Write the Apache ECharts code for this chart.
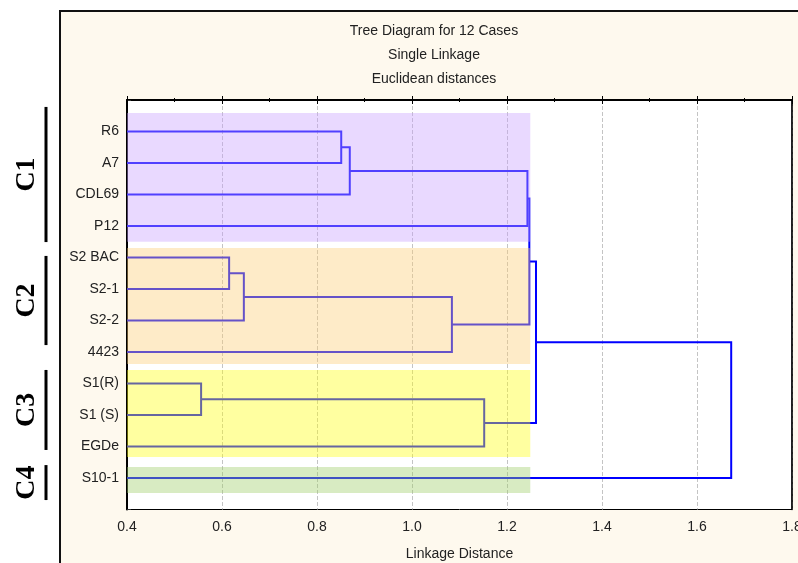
<!DOCTYPE html>
<html>
<head>
<meta charset="utf-8">
<script src="https://cdn.jsdelivr.net/npm/echarts@6/dist/echarts.min.js"></script>
<style>
  html, body { margin: 0; padding: 0; background: #fff; }
  #chart { width: 798px; height: 563px; }
</style>
</head>
<body>
<div id="chart"></div>
<script>
// ---- data ----
const titleLines = ['Tree Diagram for 12 Cases', 'Single Linkage', 'Euclidean distances'];
const axisName = 'Linkage Distance';
const leaves = ['R6', 'A7', 'CDL69', 'P12', 'S2 BAC', 'S2-1', 'S2-2', '4423', 'S1(R)', 'S1 (S)', 'EGDe', 'S10-1'];
// each merge: [child a, child b, linkage distance]; ids >= 12 are earlier merges
const merges = [
  [0, 1, 0.851],
  [12, 2, 0.869],
  [13, 3, 1.243],
  [4, 5, 0.615],
  [15, 6, 0.646],
  [16, 7, 1.084],
  [14, 17, 1.247],
  [8, 9, 0.556],
  [19, 10, 1.152],
  [18, 20, 1.261],
  [21, 11, 1.672]
];
const clusterNames = ['C1', 'C2', 'C3', 'C4'];
const clusterLeaves = [[0, 3], [4, 7], [8, 10], [11, 11]]; // first/last leaf index
const bandEnd = 1.249;
const xMin = 0.4, xMax = 1.8, xStep = 0.2;

// ---- layout / style ----
const bandColors = ['rgba(200,160,255,0.4)', 'rgba(252,205,117,0.4)', 'rgba(255,255,18,0.4)', 'rgba(157,205,102,0.4)'];
const bandPad = [[0.59, 0.5], [0.3, 0.38], [0.43, 0.33], [0.35, 0.48]];
const bracketRows = [[0.22, 4.51], [4.95, 7.78], [8.57, 11.11], [11.59, 12.7]];
const FONT = '"Liberation Sans", Arial, sans-serif';

// build dendrogram segments
const nodes = leaves.map((n, i) => ({ y: i + 1, h: xMin }));
const segs = [];
merges.forEach(([a, b, h]) => {
  const A = nodes[a], B = nodes[b];
  segs.push({ coords: [[A.h, A.y], [h, A.y], [h, B.y], [B.h, B.y]] });
  nodes.push({ y: (A.y + B.y) / 2, h: h });
});

const bands = clusterLeaves.map(([f, l], i) => [xMin, bandEnd, f + 1 - bandPad[i][0], l + 1 + bandPad[i][1]]);

const chart = echarts.init(document.getElementById('chart'));

const option = {
  animation: false,
  backgroundColor: '#fff',
  grid: {
    left: 127, right: 6, top: 100, bottom: 53.5, show: true, backgroundColor: '#fff',
    borderColor: '#000', borderWidth: 1, containLabel: false, outerBoundsMode: 'none'
  },
  xAxis: [
    {
      type: 'value', min: xMin, max: xMax, interval: xStep, position: 'bottom',
      name: axisName, nameLocation: 'middle', nameGap: 38,
      nameTextStyle: { fontFamily: FONT, fontSize: 14, color: '#222' },
      axisLine: { show: true, lineStyle: { color: '#000', width: 2 } },
      axisTick: { show: true, inside: true, length: 4, lineStyle: { color: '#000' } },
      minorTick: { show: true, splitNumber: 2, length: 2, lineStyle: { color: '#000' } },
      axisLabel: { fontFamily: FONT, fontSize: 14, color: '#222', margin: 11, formatter: v => v.toFixed(1) },
      splitLine: { show: true, lineStyle: { color: '#c4c4c4', type: [4, 2], width: 1 } }
    },
    {
      type: 'value', min: xMin, max: xMax, interval: xStep, position: 'top',
      axisLine: { show: true, lineStyle: { color: '#000', width: 1.5 } },
      axisTick: { show: true, inside: true, length: 4, lineStyle: { color: '#000' } },
      minorTick: { show: true, splitNumber: 2, length: 2, lineStyle: { color: '#000' } },
      axisLabel: { show: false },
      splitLine: { show: false }
    }
  ],
  yAxis: [
    {
      type: 'value', min: 0, max: 13, interval: 1, inverse: true, position: 'left',
      axisLine: { show: true, lineStyle: { color: '#000', width: 2 } },
      axisTick: { show: true, inside: true, length: 4, lineStyle: { color: '#333' } },
      axisLabel: { fontFamily: FONT, fontSize: 14, color: '#222', margin: 8, formatter: v => leaves[v - 1] || '' },
      splitLine: { show: false }
    },
    {
      type: 'value', min: 0, max: 13, inverse: true, position: 'right',
      axisLine: { show: true, lineStyle: { color: '#000', width: 1.5 } },
      axisTick: { show: false }, axisLabel: { show: false }, splitLine: { show: false }
    }
  ],
  series: [
    {
      type: 'lines', coordinateSystem: 'cartesian2d', polyline: true, z: 2,
      lineStyle: { color: '#0000ff', width: 2, opacity: 1 },
      data: segs
    },
    {
      type: 'custom', z: 3, silent: true,
      data: bands,
      renderItem: (params, api) => {
        const p0 = api.coord([api.value(0), api.value(2)]);
        const p1 = api.coord([api.value(1), api.value(3)]);
        return {
          type: 'rect',
          shape: { x: p0[0], y: p0[1], width: p1[0] - p0[0], height: p1[1] - p0[1] },
          style: { fill: bandColors[params.dataIndex] }
        };
      }
    }
  ]
};
chart.setOption(option);

// panel, titles and cluster brackets
const graphics = [
  { type: 'rect', z: -10, shape: { x: 60, y: 11, width: 760, height: 580 }, style: { fill: '#fef9ee', stroke: '#111', lineWidth: 2 } }
];
titleLines.forEach((t, i) => {
  graphics.push({ type: 'text', x: 434, y: 31 + i * 24, style: { text: t, font: '14px ' + FONT, fill: '#222', align: 'center', verticalAlign: 'middle' } });
});
clusterNames.forEach((c, i) => {
  const y0 = chart.convertToPixel({ yAxisIndex: 0 }, bracketRows[i][0]);
  const y1 = chart.convertToPixel({ yAxisIndex: 0 }, bracketRows[i][1]);
  graphics.push({ type: 'line', shape: { x1: 46, y1: y0, x2: 46, y2: y1 }, style: { stroke: '#000', lineWidth: 3 } });
  graphics.push({
    type: 'text', x: 27, y: (y0 + y1) / 2, rotation: Math.PI / 2,
    style: { text: c, font: 'bold 28px "Liberation Serif", "Times New Roman", serif', fill: '#000', align: 'center', verticalAlign: 'middle' }
  });
});
chart.setOption({ graphic: graphics });
</script>
</body>
</html>
